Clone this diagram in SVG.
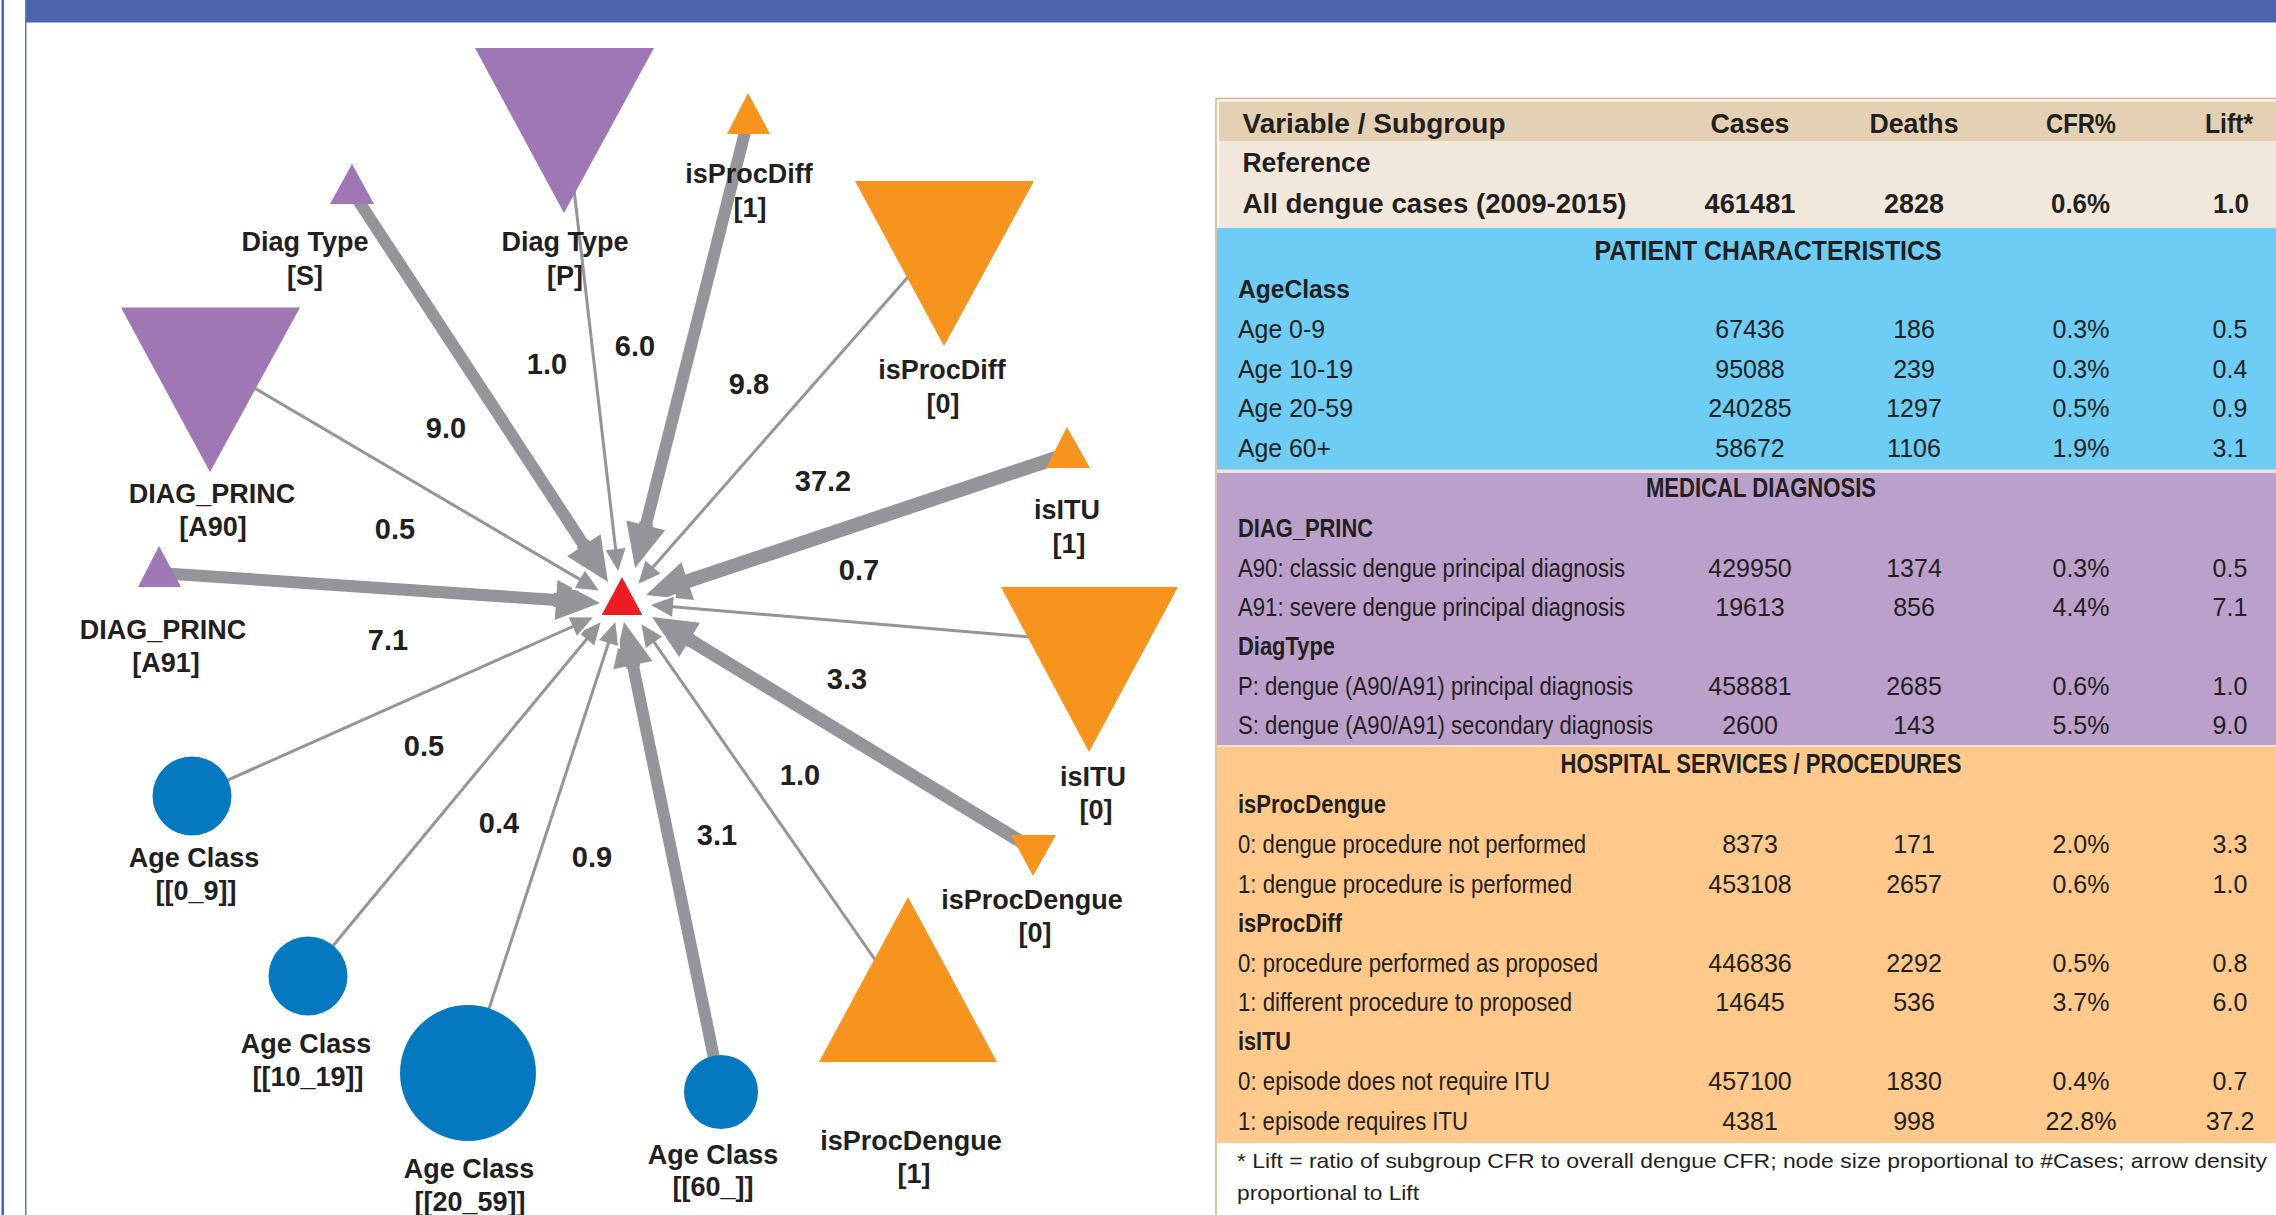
<svg xmlns="http://www.w3.org/2000/svg" width="2276" height="1215" viewBox="0 0 2276 1215">
<style>
  text { font-family: "Liberation Sans", Arial, sans-serif; fill: #231F20; }
  .nlbl { font-size: 27px; font-weight: bold; text-anchor: middle; }
  .elbl { font-size: 29px; font-weight: bold; text-anchor: middle; }
  .purple { fill: #9E77B4; }
  .orange { fill: #F7941D; }
  .blue { fill: #0479BF; }
  .center { fill: #ED1C24; stroke: #fff; stroke-width: 2; }
  .e-thin { stroke: #939598; stroke-width: 3; fill: none; marker-end: url(#ah-thin); }
  .e-thick { stroke: #939598; stroke-width: 12; fill: none; marker-end: url(#ah-thick); }
  .th { font-size: 27px; font-weight: bold; }
  .thc { font-size: 27px; font-weight: bold; text-anchor: middle; }
  .sec { font-size: 27px; font-weight: bold; text-anchor: middle; }
  .sub { font-size: 26px; font-weight: bold; }
  .row { font-size: 26px; }
  .num { font-size: 25px; text-anchor: middle; }
  .foot { font-size: 21px; }
</style>
<defs>
  <marker id="ah-thick" markerUnits="userSpaceOnUse" viewBox="-4 -24 52 48" refX="0" refY="0" markerWidth="52" markerHeight="48" orient="auto" overflow="visible">
    <path d="M0,-20 L44,0 L0,20 Z" fill="#939598" stroke="#fff" stroke-width="4" paint-order="stroke" stroke-linejoin="miter"/>
    <rect x="-2.5" y="-7" width="5" height="14" fill="#939598"/>
  </marker>
  <marker id="ah-thin" markerUnits="userSpaceOnUse" viewBox="-4 -14 30 28" refX="0" refY="0" markerWidth="30" markerHeight="28" orient="auto" overflow="visible">
    <path d="M0,-10 L22,0 L0,10 Z" fill="#939598" stroke="#fff" stroke-width="4" paint-order="stroke" stroke-linejoin="miter"/>
    <rect x="-2.5" y="-1.5" width="5" height="3" fill="#939598"/>
  </marker>
</defs>

<rect x="0" y="0" width="2276" height="1215" fill="#fff"/>
<!-- frame -->
<g id="frame">
  <rect x="25" y="0" width="2251" height="22.5" fill="#4A63AC"/>
  <rect x="1.5" y="0" width="2.5" height="1215" fill="#4A63AC"/>
  <rect x="25" y="0" width="1.5" height="1215" fill="#6079BD"/>
</g>

<!-- connectors -->
<g id="edges">
  <line id="e-diagS" class="e-thick" x1="352" y1="191" x2="583.9" y2="545.2"/>
  <line id="e-diagP" class="e-thin" x1="564" y1="103" x2="615.6" y2="549.1"/>
  <line id="e-procdiff1" class="e-thick" x1="748" y1="120" x2="645.8" y2="525.3"/>
  <line id="e-procdiff0" class="e-thin" x1="944" y1="236" x2="652.9" y2="567.2"/>
  <line id="e-itu1" class="e-thick" style="stroke-width:14" x1="1068" y1="454" x2="687.7" y2="581.1"/>
  <line id="e-itu0" class="e-thin" x1="1089" y1="642" x2="672.9" y2="606.8"/>
  <line id="e-procdengue0" class="e-thick" style="stroke-width:13" x1="1033" y1="849" x2="689.6" y2="639.9"/>
  <line id="e-procdengue1" class="e-thin" x1="908" y1="1007" x2="654.0" y2="642.2"/>
  <line id="e-age60" class="e-thick" x1="721" y1="1092" x2="632.9" y2="665.1"/>
  <line id="e-age2059" class="e-thin" x1="468" y1="1073" x2="608.5" y2="643.0"/>
  <line id="e-age1019" class="e-thin" x1="308" y1="976" x2="586.6" y2="639.2"/>
  <line id="e-age09" class="e-thin" x1="192" y1="796" x2="572.8" y2="626.5"/>
  <line id="e-a91" class="e-thick" x1="159" y1="573" x2="556.1" y2="600.0"/>
  <line id="e-a90" class="e-thin" x1="210" y1="362" x2="579.9" y2="579.4"/>
  <g id="edge-labels">
    <text class="elbl" x="446" y="438">9.0</text>
    <text class="elbl" x="547" y="374">1.0</text>
    <text class="elbl" x="635" y="356">6.0</text>
    <text class="elbl" x="749" y="394">9.8</text>
    <text class="elbl" x="823" y="491">37.2</text>
    <text class="elbl" x="859" y="580">0.7</text>
    <text class="elbl" x="395" y="539">0.5</text>
    <text class="elbl" x="388" y="650">7.1</text>
    <text class="elbl" x="424" y="756">0.5</text>
    <text class="elbl" x="499" y="833">0.4</text>
    <text class="elbl" x="592" y="867">0.9</text>
    <text class="elbl" x="717" y="845">3.1</text>
    <text class="elbl" x="800" y="785">1.0</text>
    <text class="elbl" x="847" y="689">3.3</text>
  </g>
</g>

<!-- nodes -->
<g id="node-target"><polygon class="center" points="622,575 600,616 644,616"/></g>
<g id="node-diagP">
  <polygon class="purple" points="475,48 654,48 564,213"/>
  <text class="nlbl" x="565" y="251">Diag Type</text>
  <text class="nlbl" x="565" y="285">[P]</text>
</g>
<g id="node-diagS">
  <polygon class="purple" points="352,164 330,204 374,204"/>
  <text class="nlbl" x="305" y="251">Diag Type</text>
  <text class="nlbl" x="305" y="285">[S]</text>
</g>
<g id="node-procdiff1">
  <polygon class="orange" points="748,93 727,134 770,134"/>
  <text class="nlbl" x="749" y="183">isProcDiff</text>
  <text class="nlbl" x="750" y="217">[1]</text>
</g>
<g id="node-procdiff0">
  <polygon class="orange" points="855,181 1034,181 944,346"/>
  <text class="nlbl" x="942" y="379">isProcDiff</text>
  <text class="nlbl" x="943" y="413">[0]</text>
</g>
<g id="node-a90">
  <polygon class="purple" points="121,307.5 300,307.5 210,472"/>
  <text class="nlbl" x="212" y="503">DIAG_PRINC</text>
  <text class="nlbl" x="213" y="536">[A90]</text>
</g>
<g id="node-a91">
  <polygon class="purple" points="159,546 138,587 181,587"/>
  <text class="nlbl" x="163" y="639">DIAG_PRINC</text>
  <text class="nlbl" x="166" y="672">[A91]</text>
</g>
<g id="node-itu1">
  <polygon class="orange" points="1067,427 1046,468 1090,468"/>
  <text class="nlbl" x="1067" y="519">isITU</text>
  <text class="nlbl" x="1069" y="553">[1]</text>
</g>
<g id="node-itu0">
  <polygon class="orange" points="1001,587 1178,587 1089,752"/>
  <text class="nlbl" x="1093" y="786">isITU</text>
  <text class="nlbl" x="1096" y="819">[0]</text>
</g>
<g id="node-procdengue0">
  <polygon class="orange" points="1011,835 1056,835 1033,876"/>
  <text class="nlbl" x="1032" y="909">isProcDengue</text>
  <text class="nlbl" x="1035" y="942">[0]</text>
</g>
<g id="node-procdengue1">
  <polygon class="orange" points="908,897 819,1062 997,1062"/>
  <text class="nlbl" x="911" y="1150">isProcDengue</text>
  <text class="nlbl" x="914" y="1183">[1]</text>
</g>
<g id="node-age09">
  <circle class="blue" cx="192" cy="796" r="39.5"/>
  <text class="nlbl" x="194" y="867">Age Class</text>
  <text class="nlbl" x="196" y="900">[[0_9]]</text>
</g>
<g id="node-age1019">
  <circle class="blue" cx="308" cy="976" r="39.5"/>
  <text class="nlbl" x="306" y="1053">Age Class</text>
  <text class="nlbl" x="308" y="1086">[[10_19]]</text>
</g>
<g id="node-age2059">
  <circle class="blue" cx="468" cy="1073" r="68"/>
  <text class="nlbl" x="469" y="1178">Age Class</text>
  <text class="nlbl" x="470" y="1211">[[20_59]]</text>
</g>
<g id="node-age60">
  <circle class="blue" cx="721" cy="1092" r="37"/>
  <text class="nlbl" x="713" y="1164">Age Class</text>
  <text class="nlbl" x="713" y="1196">[[60_]]</text>
</g>

<!-- table -->
<g id="table">
  <rect x="1217" y="228" width="1059" height="914" fill="#EFE4D8"/>
  <rect x="1219" y="101.5" width="1057" height="39.5" fill="#E4D1B4"/>
  <rect x="1219" y="141" width="1057" height="87" fill="#F2E7DB"/>
  <rect x="1217" y="228" width="1059" height="241.5" fill="#6DCDF5"/>
  <rect x="1217" y="473" width="1059" height="272" fill="#BBA0CB"/>
  <rect x="1217" y="747" width="1059" height="395" fill="#FEC98B"/>
  <line x1="1217" y1="1142.5" x2="2276" y2="1142.5" stroke="#E9CFA8" stroke-width="1.5"/>
  <path d="M2276,98.5 H1216 V1215" fill="none" stroke="#D9B084" stroke-width="1.5"/>

  <text class="th" x="1242.5" y="133" textLength="263" lengthAdjust="spacingAndGlyphs">Variable / Subgroup</text>
  <text class="thc" x="1750" y="133" textLength="79" lengthAdjust="spacingAndGlyphs">Cases</text>
  <text class="thc" x="1914" y="133" textLength="89" lengthAdjust="spacingAndGlyphs">Deaths</text>
  <text class="thc" x="2081" y="133" textLength="70" lengthAdjust="spacingAndGlyphs">CFR%</text>
  <text class="thc" x="2229" y="133" textLength="48" lengthAdjust="spacingAndGlyphs">Lift*</text>
  <text class="th" x="1242.5" y="172" textLength="128" lengthAdjust="spacingAndGlyphs">Reference</text>
  <text class="th" x="1242.5" y="213" textLength="384" lengthAdjust="spacingAndGlyphs">All dengue cases (2009-2015)</text>
  <text class="thc" x="1750" y="213" textLength="91" lengthAdjust="spacingAndGlyphs">461481</text>
  <text class="thc" x="1914" y="213" textLength="60" lengthAdjust="spacingAndGlyphs">2828</text>
  <text class="thc" x="2080.5" y="213" textLength="59" lengthAdjust="spacingAndGlyphs">0.6%</text>
  <text class="thc" x="2231" y="213" textLength="36" lengthAdjust="spacingAndGlyphs">1.0</text>

  <text class="sec" x="1768" y="260" textLength="347" lengthAdjust="spacingAndGlyphs">PATIENT CHARACTERISTICS</text>
  <text class="sub" x="1238" y="298" textLength="112" lengthAdjust="spacingAndGlyphs">AgeClass</text>
  <text class="row" x="1238" y="338" textLength="87" lengthAdjust="spacingAndGlyphs">Age 0-9</text>
  <text class="num" x="1750" y="338">67436</text><text class="num" x="1914" y="338">186</text><text class="num" x="2081" y="338">0.3%</text><text class="num" x="2230" y="338">0.5</text>
  <text class="row" x="1238" y="378" textLength="115" lengthAdjust="spacingAndGlyphs">Age 10-19</text>
  <text class="num" x="1750" y="378">95088</text><text class="num" x="1914" y="378">239</text><text class="num" x="2081" y="378">0.3%</text><text class="num" x="2230" y="378">0.4</text>
  <text class="row" x="1238" y="417" textLength="115" lengthAdjust="spacingAndGlyphs">Age 20-59</text>
  <text class="num" x="1750" y="417">240285</text><text class="num" x="1914" y="417">1297</text><text class="num" x="2081" y="417">0.5%</text><text class="num" x="2230" y="417">0.9</text>
  <text class="row" x="1238" y="457" textLength="93" lengthAdjust="spacingAndGlyphs">Age 60+</text>
  <text class="num" x="1750" y="457">58672</text><text class="num" x="1914" y="457">1106</text><text class="num" x="2081" y="457">1.9%</text><text class="num" x="2230" y="457">3.1</text>

  <text class="sec" x="1761" y="497" textLength="230" lengthAdjust="spacingAndGlyphs">MEDICAL DIAGNOSIS</text>
  <text class="sub" x="1238" y="537" textLength="135" lengthAdjust="spacingAndGlyphs">DIAG_PRINC</text>
  <text class="row" x="1238" y="577" textLength="387" lengthAdjust="spacingAndGlyphs">A90: classic dengue principal diagnosis</text>
  <text class="num" x="1750" y="577">429950</text><text class="num" x="1914" y="577">1374</text><text class="num" x="2081" y="577">0.3%</text><text class="num" x="2230" y="577">0.5</text>
  <text class="row" x="1238" y="616" textLength="387" lengthAdjust="spacingAndGlyphs">A91: severe dengue principal diagnosis</text>
  <text class="num" x="1750" y="616">19613</text><text class="num" x="1914" y="616">856</text><text class="num" x="2081" y="616">4.4%</text><text class="num" x="2230" y="616">7.1</text>
  <text class="sub" x="1238" y="655" textLength="97" lengthAdjust="spacingAndGlyphs">DiagType</text>
  <text class="row" x="1238" y="695" textLength="395" lengthAdjust="spacingAndGlyphs">P: dengue (A90/A91) principal diagnosis</text>
  <text class="num" x="1750" y="695">458881</text><text class="num" x="1914" y="695">2685</text><text class="num" x="2081" y="695">0.6%</text><text class="num" x="2230" y="695">1.0</text>
  <text class="row" x="1238" y="734" textLength="415" lengthAdjust="spacingAndGlyphs">S: dengue (A90/A91) secondary diagnosis</text>
  <text class="num" x="1750" y="734">2600</text><text class="num" x="1914" y="734">143</text><text class="num" x="2081" y="734">5.5%</text><text class="num" x="2230" y="734">9.0</text>

  <text class="sec" x="1761" y="773" textLength="401" lengthAdjust="spacingAndGlyphs">HOSPITAL SERVICES / PROCEDURES</text>
  <text class="sub" x="1238" y="813" textLength="148" lengthAdjust="spacingAndGlyphs">isProcDengue</text>
  <text class="row" x="1238" y="853" textLength="348" lengthAdjust="spacingAndGlyphs">0: dengue procedure not performed</text>
  <text class="num" x="1750" y="853">8373</text><text class="num" x="1914" y="853">171</text><text class="num" x="2081" y="853">2.0%</text><text class="num" x="2230" y="853">3.3</text>
  <text class="row" x="1238" y="893" textLength="334" lengthAdjust="spacingAndGlyphs">1: dengue procedure is performed</text>
  <text class="num" x="1750" y="893">453108</text><text class="num" x="1914" y="893">2657</text><text class="num" x="2081" y="893">0.6%</text><text class="num" x="2230" y="893">1.0</text>
  <text class="sub" x="1238" y="932" textLength="104" lengthAdjust="spacingAndGlyphs">isProcDiff</text>
  <text class="row" x="1238" y="972" textLength="360" lengthAdjust="spacingAndGlyphs">0: procedure performed as proposed</text>
  <text class="num" x="1750" y="972">446836</text><text class="num" x="1914" y="972">2292</text><text class="num" x="2081" y="972">0.5%</text><text class="num" x="2230" y="972">0.8</text>
  <text class="row" x="1238" y="1011" textLength="334" lengthAdjust="spacingAndGlyphs">1: different procedure to proposed</text>
  <text class="num" x="1750" y="1011">14645</text><text class="num" x="1914" y="1011">536</text><text class="num" x="2081" y="1011">3.7%</text><text class="num" x="2230" y="1011">6.0</text>
  <text class="sub" x="1238" y="1050" textLength="53" lengthAdjust="spacingAndGlyphs">isITU</text>
  <text class="row" x="1238" y="1090" textLength="312" lengthAdjust="spacingAndGlyphs">0: episode does not require ITU</text>
  <text class="num" x="1750" y="1090">457100</text><text class="num" x="1914" y="1090">1830</text><text class="num" x="2081" y="1090">0.4%</text><text class="num" x="2230" y="1090">0.7</text>
  <text class="row" x="1238" y="1130" textLength="230" lengthAdjust="spacingAndGlyphs">1: episode requires ITU</text>
  <text class="num" x="1750" y="1130">4381</text><text class="num" x="1914" y="1130">998</text><text class="num" x="2081" y="1130">22.8%</text><text class="num" x="2230" y="1130">37.2</text>

  <text class="foot" x="1237" y="1168" textLength="1030" lengthAdjust="spacingAndGlyphs">* Lift = ratio of subgroup CFR to overall dengue CFR; node size proportional to #Cases; arrow density</text>
  <text class="foot" x="1237" y="1200" textLength="182" lengthAdjust="spacingAndGlyphs">proportional to Lift</text>
</g>
</svg>
